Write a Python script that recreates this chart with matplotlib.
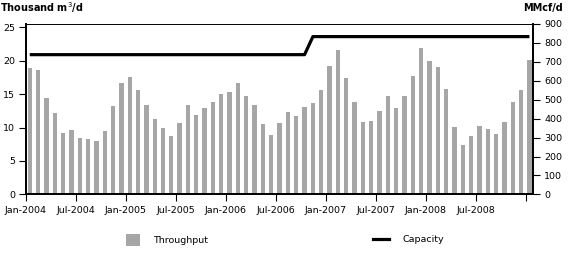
import matplotlib
matplotlib.use("Agg")
import matplotlib.pyplot as plt
from matplotlib.patches import Patch
from matplotlib.lines import Line2D
import numpy as np

# Monthly data, Jan-2004 .. Jan-2009 (thousand m3/d)
throughput = [18.9, 18.65, 14.4, 12.1, 9.2, 9.65, 8.5, 8.3, 8.05, 9.5, 13.2, 16.65,
              17.55, 15.55, 13.4, 11.3, 9.95, 8.8, 10.65, 13.4, 11.85, 12.95, 13.75, 15.0,
              15.3, 16.7, 14.75, 13.4, 10.55, 8.9, 10.75, 12.35, 11.7, 13.05, 13.7, 15.65,
              19.15, 21.6, 17.35, 13.75, 10.9, 11.05, 12.45, 14.75, 12.9, 14.65, 17.75, 21.9,
              20.0, 19.05, 15.7, 10.05, 7.45, 8.75, 10.2, 9.8, 9.0, 10.85, 13.75, 15.6,
              20.05]
capacity = [20.9, 20.9, 20.9, 20.9, 20.9, 20.9, 20.9, 20.9, 20.9, 20.9, 20.9, 20.9,
            20.9, 20.9, 20.9, 20.9, 20.9, 20.9, 20.9, 20.9, 20.9, 20.9, 20.9, 20.9,
            20.9, 20.9, 20.9, 20.9, 20.9, 20.9, 20.9, 20.9, 20.9, 20.9, 23.6, 23.6,
            23.6, 23.6, 23.6, 23.6, 23.6, 23.6, 23.6, 23.6, 23.6, 23.6, 23.6, 23.6,
            23.6, 23.6, 23.6, 23.6, 23.6, 23.6, 23.6, 23.6, 23.6, 23.6, 23.6, 23.6,
            23.6]
tick_months = [0, 6, 12, 18, 24, 30, 36, 42, 48, 54, 60]
tick_labels = ["Jan-2004", "Jul-2004", "Jan-2005", "Jul-2005", "Jan-2006", "Jul-2006",
               "Jan-2007", "Jul-2007", "Jan-2008", "Jul-2008", ""]
left_ticks = [0, 5, 10, 15, 20, 25]
right_ticks = [0, 100, 200, 300, 400, 500, 600, 700, 800, 900]
conv = 35.3147  # MMcf/d per thousand m3/d scale on the chart

plt.rcParams['font.family'] = ['DejaVu Sans']
fs = 6.8

fig = plt.figure(figsize=(5.8, 2.54), dpi=100)
ax = fig.add_axes([26/580, 1-194.4/254, (533-26)/580, (194.4-24)/254])

x = np.arange(len(throughput)) + 0.45
ax.bar(x, throughput, width=0.52, color="#a6a6a6", zorder=2)
ax.plot(x, capacity, color="black", lw=2.3, zorder=3, solid_capstyle="butt")

ax.set_xlim(0, 60.88)
ymax = 900 / conv
ax.set_ylim(0, ymax)
ax.set_xticks(tick_months)
ax.set_xticklabels(tick_labels, fontsize=fs)
ax.set_yticks(left_ticks)
ax.set_yticklabels([str(t) for t in left_ticks], fontsize=fs)
ax.tick_params(axis="both", direction="out", length=5, width=0.8, pad=3, colors="black")

ax2 = ax.twinx()
ax2.set_ylim(0, 900)
ax2.set_yticks(right_ticks)
ax2.set_yticklabels([str(t) for t in right_ticks], fontsize=fs)
ax2.tick_params(axis="y", direction="out", length=5, width=0.8, pad=3)

for a in (ax, ax2):
    for s in ("left", "bottom", "right"):
        a.spines[s].set_linewidth(1.3)
    a.spines["top"].set_linewidth(0.6)

fig.text(0.0, 1-8/254, "Thousand m$^3$/d", fontsize=7, fontweight="bold",
         ha="left", va="center")
fig.text(563/580, 1-8/254, "MMcf/d", fontsize=7, fontweight="bold",
         ha="right", va="center")

h1 = Patch(facecolor="#a6a6a6", edgecolor="none")
h2 = Line2D([], [], color="black", lw=2.3)
leg1 = fig.legend([h1], ["Throughput"], loc="center left",
                  bbox_to_anchor=(125.5/580, 1-240/254), frameon=False,
                  fontsize=fs, handlelength=1.5, handleheight=1.5,
                  handletextpad=1.45, borderpad=0, borderaxespad=0)
leg2 = fig.legend([h2], ["Capacity"], loc="center left",
                  bbox_to_anchor=(372.5/580, 1-240/254), frameon=False,
                  fontsize=fs, handlelength=1.75,
                  handletextpad=1.45, borderpad=0, borderaxespad=0)

fig.savefig("out.png", dpi=100)
